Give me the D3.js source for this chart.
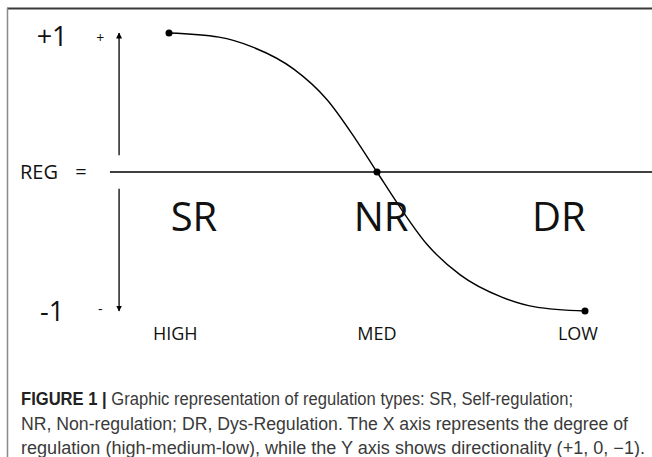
<!DOCTYPE html>
<html><head><meta charset="utf-8">
<script src="https://cdn.jsdelivr.net/npm/d3@7"></script>
<style>body{margin:0;background:#fff}svg{display:block}</style>
</head><body>
<svg id="c" width="652" height="457"></svg>
<script>
// ---- data ----
const curveX = [0, 0.12, 0.2, 0.3, 0.38, 0.45, 0.5, 0.55, 0.62, 0.7, 0.8, 0.88, 1];
const curveY = [1, 0.97, 0.9, 0.74, 0.52, 0.23, 0, -0.23, -0.52, -0.74, -0.9, -0.97, -1];
const markerX = [0, 0.5, 1];
const markerY = [1, 0, -1];
const levelLabels = ["HIGH", "MED", "LOW"];
const levelX = [0.015, 0.5, 0.983];
const typeLabels = ["SR", "NR", "DR"];
const typeX = [0.06, 0.51, 0.937];
const yTickValues = [1, -1];
const yTickLabels = ["+1", "-1"];
const signLabels = ["+", "-"];
const regAxisX = [-0.142, 1.166];
const yArrowX = -0.12;
const captionBold = "FIGURE 1 |";
const captionLines = [
  " Graphic representation of regulation types: SR, Self-regulation;",
  "NR, Non-regulation; DR, Dys-Regulation. The X axis represents the degree of",
  "regulation (high-medium-low), while the Y axis shows directionality (+1, 0, \u22121)."
];
const captionWidths = [552, 607, 624];

// ---- scales ----
const x = d3.scaleLinear().domain([0, 1]).range([169, 585]);
const y = d3.scaleLinear().domain([-1, 1]).range([311, 33]);

const svg = d3.select("#c");
const F = "'Open Sans', 'Noto Sans', sans-serif";

// frame
svg.append("line").attr("x1", 7).attr("x2", 652).attr("y1", 8.5).attr("y2", 8.5)
  .attr("stroke", "#3a3a3a").attr("stroke-width", 2);
svg.append("line").attr("x1", 7.5).attr("x2", 7.5).attr("y1", 8).attr("y2", 457)
  .attr("stroke", "#8a8a8a").attr("stroke-width", 1.5);

// arrow markers
const defs = svg.append("defs");
defs.append("marker").attr("id", "ah").attr("viewBox", "0 0 6 10")
  .attr("refX", 5.5).attr("refY", 5).attr("markerWidth", 6).attr("markerHeight", 10)
  .attr("markerUnits", "userSpaceOnUse").attr("orient", "auto")
  .append("path").attr("d", "M0,2 L6,5 L0,8 Z").attr("fill", "#000");

// horizontal REG axis
svg.append("line")
  .attr("x1", x(regAxisX[0])).attr("x2", x(regAxisX[1]))
  .attr("y1", y(0)).attr("y2", y(0))
  .attr("stroke", "#000").attr("stroke-width", 1.5);

// vertical arrows
const gap = 0.12;
svg.append("line").attr("x1", x(yArrowX)).attr("x2", x(yArrowX))
  .attr("y1", y(gap)).attr("y2", y(1))
  .attr("stroke", "#000").attr("stroke-width", 1.3).attr("marker-end", "url(#ah)");
svg.append("line").attr("x1", x(yArrowX)).attr("x2", x(yArrowX))
  .attr("y1", y(-gap)).attr("y2", y(-1))
  .attr("stroke", "#000").attr("stroke-width", 1.3).attr("marker-end", "url(#ah)");

// curve
const pts = curveX.map((v, i) => [v, curveY[i]]);
svg.append("path").datum(pts)
  .attr("d", d3.line().x(d => x(d[0])).y(d => y(d[1])).curve(d3.curveMonotoneX))
  .attr("fill", "none").attr("stroke", "#000").attr("stroke-width", 1.4);

// markers
svg.selectAll("circle.m").data(markerX).join("circle").attr("class", "m")
  .attr("cx", d => x(d)).attr("cy", (d, i) => y(markerY[i])).attr("r", 3.5).attr("fill", "#000");

// y tick labels
svg.selectAll("text.yt").data(yTickValues).join("text").attr("class", "yt")
  .attr("x", x(-0.281)).attr("y", d => y(d) + (d > 0 ? 13 : 10))
  .attr("text-anchor", "middle").attr("font-family", F).attr("font-size", 27)
  .attr("fill", "#111").text((d, i) => yTickLabels[i]);
svg.selectAll("text.sg").data(yTickValues).join("text").attr("class", "sg")
  .attr("x", x(-0.165)).attr("y", d => y(d) + (d > 0 ? 10 : 3))
  .attr("text-anchor", "middle").attr("font-family", F).attr("font-size", 14)
  .attr("fill", "#111").text((d, i) => signLabels[i]);

// REG =
svg.append("text").attr("x", 20).attr("y", y(0) + 7).attr("font-family", F)
  .attr("font-size", 20).attr("fill", "#111").text("REG");
svg.append("text").attr("x", 81).attr("y", y(0) + 7).attr("text-anchor", "middle")
  .attr("font-family", F).attr("font-size", 20).attr("fill", "#111").text("=");

// regulation type labels
svg.selectAll("text.tp").data(typeLabels).join("text").attr("class", "tp")
  .attr("x", (d, i) => x(typeX[i])).attr("y", y(0) + 59)
  .attr("text-anchor", "middle").attr("font-family", F).attr("font-size", 40)
  .attr("fill", "#111").text(d => d);

// level labels
svg.selectAll("text.lv").data(levelLabels).join("text").attr("class", "lv")
  .attr("x", (d, i) => x(levelX[i])).attr("y", y(-1) + 29)
  .attr("text-anchor", "middle").attr("font-family", F).attr("font-size", 18)
  .attr("fill", "#111").text(d => d);

// caption
const CF = "'Liberation Sans', Arial, sans-serif";
captionLines.forEach((line, i) => {
  const t = svg.append("text").attr("x", 21).attr("y", 405 + i * 24.5)
    .attr("font-family", CF).attr("font-size", 17.5).attr("fill", "#3a3a3a")
    .attr("textLength", captionWidths[i]).attr("lengthAdjust", "spacingAndGlyphs");
  if (i === 0) {
    t.append("tspan").attr("font-weight", "bold").attr("fill", "#222").text(captionBold);
  }
  t.append("tspan").text(line);
});
</script>
</body></html>
